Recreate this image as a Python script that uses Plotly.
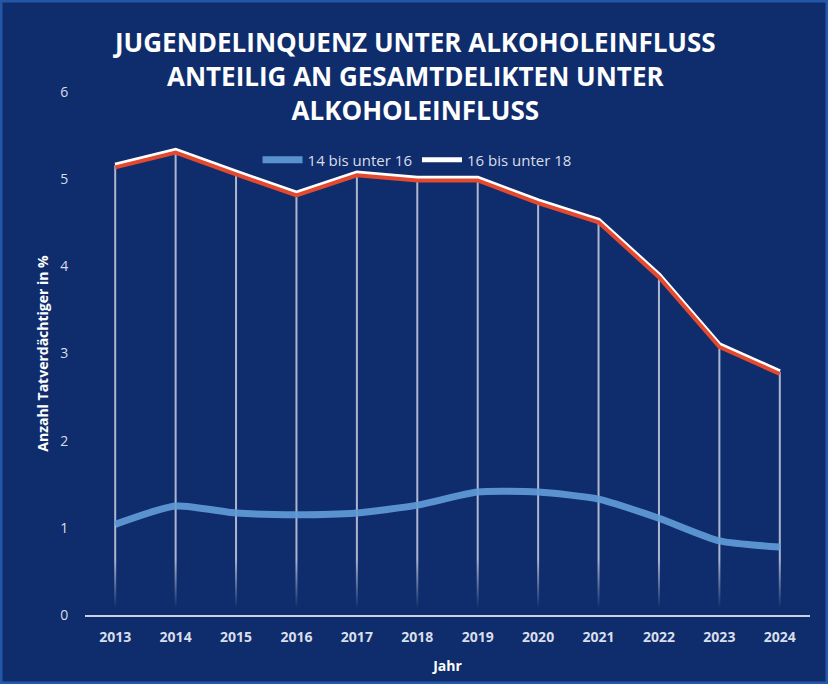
import plotly.graph_objects as go

years = [2013, 2014, 2015, 2016, 2017, 2018, 2019, 2020, 2021, 2022, 2023, 2024]
age_14_16 = [1.04, 1.25, 1.17, 1.15, 1.17, 1.26, 1.41, 1.41, 1.33, 1.11, 0.85, 0.78]
age_16_18 = [5.16, 5.33, 5.08, 4.84, 5.07, 5.01, 5.01, 4.75, 4.53, 3.90, 3.10, 2.79]
series_names = ["14 bis unter 16", "16 bis unter 18"]
y_ticks = [0, 1, 2, 3, 4, 5, 6]
title_lines = ["JUGENDELINQUENZ UNTER ALKOHOLEINFLUSS",
               "ANTEILIG AN GESAMTDELIKTEN UNTER",
               "ALKOHOLEINFLUSS"]

BG = "#0f2d6c"
FONT = "Open Sans"
H, T, B = 684, 92, 69
PH = H - T - B

fig = go.Figure()

# vertical drop lines from the upper series down to the axis
dx, dy = [], []
for yr, v in zip(years, age_16_18):
    dx += [yr, yr, None]
    dy += [v, 0, None]
fig.add_trace(go.Scatter(x=dx, y=dy, mode="lines", showlegend=False, hoverinfo="skip",
                         line=dict(color="rgba(225,230,240,0.75)", width=2)))

# fade overlay at the bottom of the drop lines
fx = [years[0] - 0.5, years[-1] + 0.5, years[-1] + 0.5, years[0] - 0.5, years[0] - 0.5]
fy = [0, 0, 0.65, 0.65, 0]
fig.add_trace(go.Scatter(x=fx, y=fy, mode="lines", fill="toself", showlegend=False,
                         hoverinfo="skip", line=dict(width=0, color="rgba(0,0,0,0)"),
                         fillgradient=dict(type="vertical", start=0.08, stop=0.65,
                                           colorscale=[[0, "rgba(15,45,108,1)"],
                                                       [1, "rgba(15,45,108,0)"]])))

# red shadow under the white line (slightly offset axis)
fig.add_trace(go.Scatter(x=years, y=age_16_18, mode="lines", showlegend=False, hoverinfo="skip",
                         yaxis="y2", line=dict(color="#e2492f", width=4)))

fig.add_trace(go.Scatter(x=years, y=age_16_18, mode="lines", name=series_names[1],
                         line=dict(color="#ffffff", width=5), legendrank=2))

fig.add_trace(go.Scatter(x=years, y=age_14_16, mode="lines", name=series_names[0],
                         line=dict(color="rgba(95,155,215,0.92)", width=7, shape="spline",
                                   smoothing=0.6), legendrank=1))

fig.update_layout(
    width=828, height=H,
    paper_bgcolor=BG, plot_bgcolor=BG,
    margin=dict(l=85, r=18, t=T, b=B),
    font=dict(family=FONT, color="#d8deea", size=14),
    annotations=[dict(text="<br>".join(title_lines), xref="paper", yref="paper",
                      x=(414 - 85) / 725, y=(H - B - 76) / PH, xanchor="center",
                      yanchor="middle", showarrow=False, align="center",
                      font=dict(family=FONT, size=26, color="#ffffff", weight="bold"))],
    showlegend=True,
    legend=dict(orientation="h", x=0.458, xanchor="center", y=0.87, yanchor="middle",
                bgcolor="rgba(0,0,0,0)", font=dict(size=15, color="#d8deea"),
                traceorder="normal", itemwidth=40),
    xaxis=dict(range=[years[0] - 0.5, years[-1] + 0.5], tickmode="array", tickvals=years,
               ticktext=[str(y) for y in years], showgrid=False, zeroline=False,
               showline=True, linecolor="#c9d1e2", linewidth=2,
               ticks="outside", ticklen=8, tickcolor="rgba(0,0,0,0)",
               tickfont=dict(size=14, color="#d8deea", weight="bold"),
               title=dict(text="Jahr", font=dict(size=14, color="#ffffff", weight="bold"), standoff=16)),
    yaxis=dict(range=[0, 6], tickmode="array", tickvals=y_ticks, showgrid=False, zeroline=False,
               showline=False, ticks="outside", ticklen=13, tickcolor="rgba(0,0,0,0)",
               tickfont=dict(size=14, color="#d8deea"),
               title=dict(text="Anzahl Tatverdächtiger in %",
                          font=dict(size=14, color="#ffffff", weight="bold"), standoff=8)),
    yaxis2=dict(range=[0.025, 6.025], overlaying="y", visible=False),
    shapes=[dict(type="rect", xref="paper", yref="paper",
                 x0=-85 / 725, x1=1 + 18 / 725, y0=-B / PH, y1=1 + T / PH,
                 line=dict(color="#2458a6", width=5), layer="above")],
)

fig.write_html("out.html", config={"displayModeBar": False},
               post_script="document.body.style.margin='0';document.body.style.overflow='hidden';")
